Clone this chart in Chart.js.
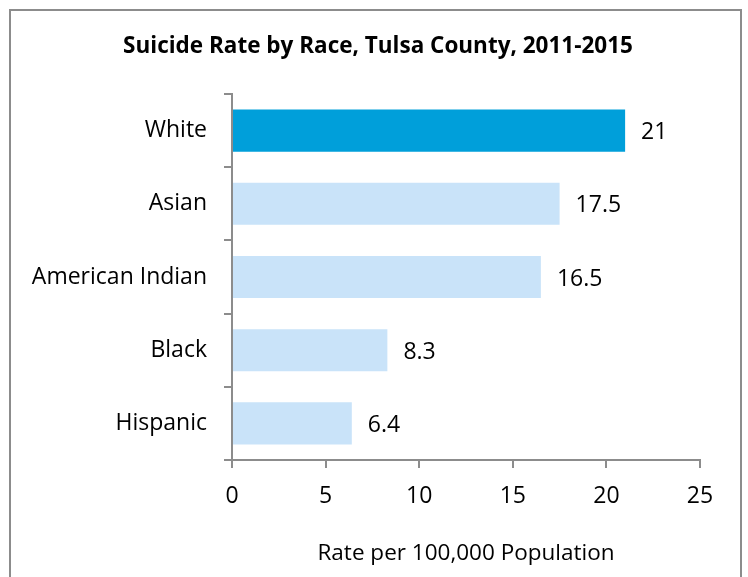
<!DOCTYPE html>
<html>
<head>
<meta charset="utf-8">
<script src="https://cdn.jsdelivr.net/npm/chart.js@4.4.1/dist/chart.umd.min.js"></script>
<style>
    body { margin: 0; background: #fff; }
    .frame {
        position: absolute; left: 9px; top: 9px;
        width: 729px; height: 620px;
        border: 2px solid #8c8c8c;
    }
    #chart { position: absolute; left: 0; top: 0; }
</style>
</head>
<body>
<div class="frame"></div>
<canvas id="chart" width="748" height="577"></canvas>
<script>
// Chart data
const races = ['White', 'Asian', 'American Indian', 'Black', 'Hispanic'];
const rates = [21, 17.5, 16.5, 8.3, 6.4];
const barColors = ['#009fda', '#c9e3f9', '#c9e3f9', '#c9e3f9', '#c9e3f9'];
const xTicks = [0, 5, 10, 15, 20, 25];

const FONT = "'Open Sans', sans-serif";
const AXIS_GRAY = '#8c8c8c';

// Draws the value next to each bar end
const valueLabels = {
    id: 'valueLabels',
    afterDatasetsDraw(chart) {
        const ctx = chart.ctx;
        const meta = chart.getDatasetMeta(0);
        ctx.save();
        ctx.font = `23px ${FONT}`;
        ctx.fillStyle = '#000';
        ctx.textAlign = 'left';
        ctx.textBaseline = 'middle';
        meta.data.forEach((bar, i) => {
            ctx.fillText(String(rates[i]), bar.x + 16, bar.y + 2);
        });
        ctx.restore();
    }
};

// Centre the title on the frame rather than on the padded layout box
const titleShift = {
    id: 'titleShift',
    afterLayout(chart) {
        if (chart.titleBlock) {
            chart.titleBlock.left = 56;
            chart.titleBlock.right = 700;
        }
    }
};

new Chart(document.getElementById('chart'), {
    type: 'bar',
    data: {
        labels: races,
        datasets: [{
            data: rates,
            backgroundColor: barColors,
            borderWidth: 0,
            categoryPercentage: 1,
            barPercentage: 0.575
        }]
    },
    options: {
        indexAxis: 'y',
        responsive: false,
        animation: false,
        layout: { padding: { left: 10, right: 48, top: 0, bottom: 0 } },
        plugins: {
            legend: { display: false },
            tooltip: { enabled: false },
            title: {
                display: true,
                text: 'Suicide Rate by Race, Tulsa County, 2011-2015',
                color: '#000',
                font: { family: FONT, size: 22.5, weight: 'bold', lineHeight: 1.2 },
                padding: { top: 33, bottom: 34 }
            }
        },
        scales: {
            x: {
                min: 0,
                max: 25,
                afterBuildTicks: s => { s.ticks = xTicks.map(v => ({ value: v })); },
                afterFit: s => { s.height = 117; },
                grid: { drawOnChartArea: false, drawTicks: true, tickLength: 8, color: AXIS_GRAY, lineWidth: 2 },
                border: { display: true, color: AXIS_GRAY, width: 2 },
                ticks: { color: '#000', font: { family: FONT, size: 23 }, padding: 15 },
                title: {
                    display: true,
                    text: 'Rate per 100,000 Population',
                    color: '#000',
                    font: { family: FONT, size: 22.5, lineHeight: 1.2 },
                    padding: { top: 0, bottom: 10 }
                }
            },
            y: {
                afterFit: s => { s.width = 222; },
                grid: { drawOnChartArea: false, drawTicks: true, tickLength: 8, color: AXIS_GRAY, lineWidth: 2, offset: true },
                border: { display: true, color: AXIS_GRAY, width: 2 },
                ticks: { color: '#000', font: { family: FONT, size: 23 }, padding: 17 }
            }
        }
    },
    plugins: [valueLabels, titleShift]
});
</script>
</body>
</html>
